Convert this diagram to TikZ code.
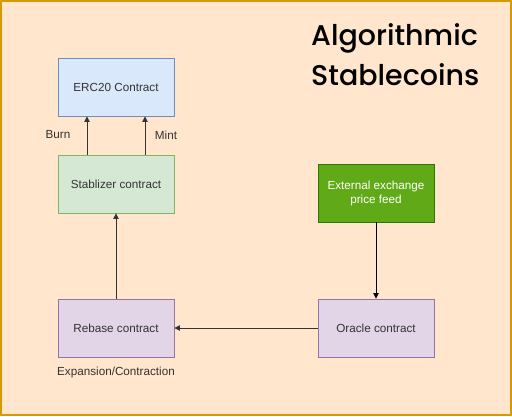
\documentclass[tikz,border=0pt]{standalone}
\usepackage{fontspec}
\setmainfont{Liberation Sans}
\newfontfamily\titlefont{Poppins Medium}
\usetikzlibrary{arrows.meta}
\definecolor{bgfill}{HTML}{FFE6CC}
\definecolor{bgdraw}{HTML}{D79B00}
\definecolor{bluefill}{HTML}{DAE8FC}
\definecolor{bluedraw}{HTML}{6C8EBF}
\definecolor{greenfill}{HTML}{D5E8D4}
\definecolor{greendraw}{HTML}{82B366}
\definecolor{purplefill}{HTML}{E1D5E7}
\definecolor{purpledraw}{HTML}{9673A6}
\definecolor{darkgreenfill}{HTML}{60A917}
\definecolor{darkgreendraw}{HTML}{2D7600}
\definecolor{edgecol}{HTML}{333333}
\begin{document}
\begin{tikzpicture}[x=1pt,y=-1pt,
  box/.style={draw, line width=0.9pt, minimum width=116pt, minimum height=58pt, inner sep=0pt, font=\fontsize{11.7}{14}\selectfont, text=black!80, align=center},
  conn/.style={draw=edgecol, line width=0.8pt, -{Triangle[length=5.5pt,width=5.5pt]}},
  lbl/.style={font=\fontsize{11.7}{14}\selectfont, text=black!80, inner sep=0pt}]
\path[use as bounding box, fill=bgfill, draw=bgdraw, line width=2pt] (1,1) rectangle (511,415);
\node[box, fill=bluefill, draw=bluedraw] (erc) at (116,87) {ERC20 Contract};
\node[box, fill=greenfill, draw=greendraw] (stab) at (116,184) {Stablizer contract};
\node[box, fill=purplefill, draw=purpledraw] (rebase) at (116,328) {Rebase contract};
\node[box, fill=purplefill, draw=purpledraw] (oracle) at (376,328) {Oracle contract};
\node[box, fill=darkgreenfill, draw=darkgreendraw, text=white] (ext) at (376,193) {External exchange\\price feed};
\node[font=\titlefont\fontsize{28.5}{40}\selectfont, align=left, anchor=north west, inner sep=0pt] (title) at (311,23) {Algorithmic\\Stablecoins};
\node[lbl] (burn) at (58,135) {Burn};
\node[lbl] (mint) at (166,135) {Mint};
\node[lbl] (exp) at (116,372) {Expansion/Contraction};
\draw[conn] ([xshift=-29pt]stab.north) -- ([xshift=-29pt]erc.south);
\draw[conn] ([xshift=29pt]stab.north) -- ([xshift=29pt]erc.south);
\draw[conn] (rebase) -- (stab);
\draw[conn, draw=black] (ext) -- (oracle);
\draw[conn] (oracle) -- (rebase);
\end{tikzpicture}
\end{document}
